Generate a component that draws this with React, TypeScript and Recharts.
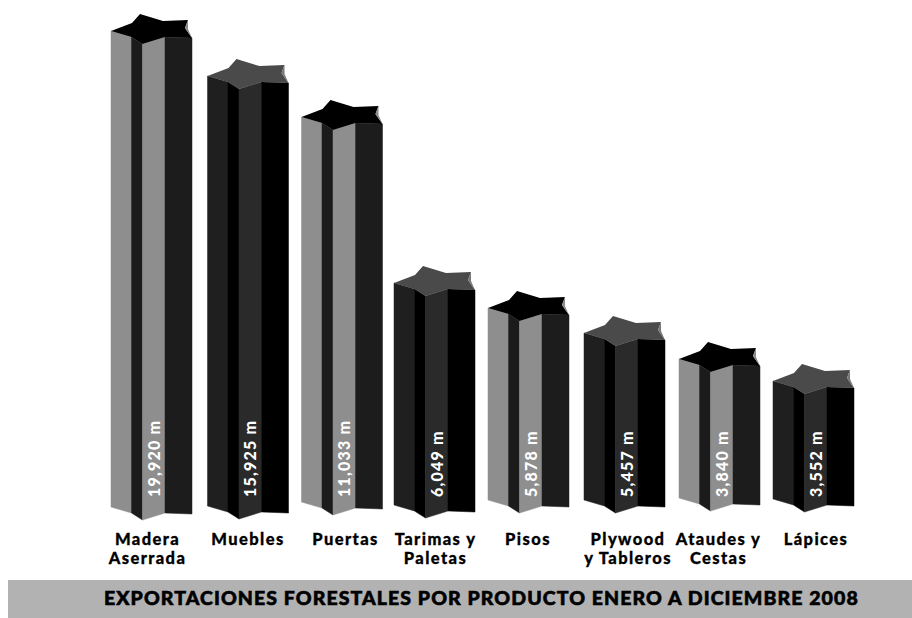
import { BarChart, Bar, XAxis, YAxis, LabelList } from 'recharts';

const categories = [
  'Madera\nAserrada',
  'Muebles',
  'Puertas',
  'Tarimas y\nPaletas',
  'Pisos',
  'Plywood\ny Tableros',
  'Ataudes y\nCestas',
  'Lápices',
];
const exportValues = [19920, 15925, 11033, 6049, 5878, 5457, 3840, 3552];
const chartTitle = 'EXPORTACIONES FORESTALES POR PRODUCTO ENERO A DICIEMBRE 2008';

// The column axis is hand-compressed rather than linear: each stop pairs an
// export value with its share of the axis length.
const axisStopValues = [0, 3552, 3840, 5457, 5878, 6049, 11033, 15925, 19920, 21000];
const axisStopShares = [0, 0.2485, 0.292, 0.343, 0.3925, 0.4418, 0.769, 0.85, 0.939, 1];

function makeStopScale(domain = [0, 1], range = [0, 1]) {
  const scale: any = (v: number) => {
    let i = 1;
    while (i < axisStopValues.length - 1 && v > axisStopValues[i]) i++;
    const t = (v - axisStopValues[i - 1]) / (axisStopValues[i] - axisStopValues[i - 1]);
    const share = axisStopShares[i - 1] + t * (axisStopShares[i] - axisStopShares[i - 1]);
    return range[0] + share * (range[1] - range[0]);
  };
  scale.domain = (d?: number[]) => (d ? makeStopScale(d, range) : domain);
  scale.range = (r?: number[]) => (r ? makeStopScale(domain, r) : range);
  scale.copy = () => makeStopScale(domain, range);
  scale.ticks = () => axisStopValues;
  return scale;
}

// Star column cross-section, measured from the left corner of the column
const topEdge = [[0, 0], [20.5, 6], [31.5, 13], [54, 6], [81, 7]];
const starOutline = [[0, 0], [21, -8], [29, -17], [52, -10], [77, -11], [74, -3], [81, 7], [54, 6], [31.5, 13], [20.5, 6]];
const notch = [[77, -11], [77, -2], [81, 7], [74, -3]];

const lightColumn = { faces: ['#8e8e8e', '#1b1b1b', '#8e8e8e', '#1c1c1c'], star: '#000000', notch: '#8a8a8a' };
const darkColumn = { faces: ['#1f1f1f', '#000000', '#2a2a2a', '#000000'], star: '#4a4a4a', notch: '#777777' };
const columnStyles = [lightColumn, darkColumn, lightColumn, darkColumn, lightColumn, darkColumn, lightColumn, darkColumn];

// small hand-drawn offsets of the columns from the regular band positions
const columnShiftX = [0, 2, 1.5, -0.5, -1, 0.5, 1, 0.5];
const columnFootLift = [0, 1, 5, 2, 7, 7, 9, 8];
const tickShiftX = [-4, 2, 5, 0.5, -1.5, 4, 0, 3];

const pts = (list: number[][]) => list.map((p) => p.join(',')).join(' ');

function StarColumn(props: any) {
  const { x, y, height, index } = props;
  const style = columnStyles[index];
  const left = x + columnShiftX[index];
  const foot = y + height - columnFootLift[index];
  return (
    <g>
      {style.faces.map((fill, i) => {
        const [ax, ay] = topEdge[i];
        const [bx, by] = topEdge[i + 1];
        const face = [
          [left + ax, y + ay],
          [left + bx, y + by],
          [left + bx, foot + by],
          [left + ax, foot + ay],
        ];
        return <polygon key={i} points={pts(face)} fill={fill} stroke={fill} strokeWidth={0.5} />;
      })}
      <polygon points={pts(starOutline.map(([a, b]) => [left + a, y + b]))} fill={style.star} />
      <polygon points={pts(notch.map(([a, b]) => [left + a, y + b]))} fill={style.notch} />
    </g>
  );
}

function ValueLabel(props: any) {
  const { x, index, value } = props;
  const cx = x + columnShiftX[index] + 43;
  return (
    <text
      transform={`translate(${cx + 5.5},497) rotate(-90)`}
      fill="#ffffff"
      fontFamily="Lato, sans-serif"
      fontWeight={900}
      fontSize={16}
      letterSpacing={1.2}
    >
      {`${value.toLocaleString('en-US')} m`}
    </text>
  );
}

function CategoryTick(props: any) {
  const { x, payload, index } = props;
  const lines = String(payload.value).split('\n');
  return (
    <text
      textAnchor="middle"
      fill="#000000"
      stroke="#000000"
      strokeWidth={0.3}
      fontFamily="Lato, sans-serif"
      fontWeight={900}
      fontSize={16.5}
      letterSpacing={1.4}
    >
      {lines.map((line, i) => (
        <tspan key={i} x={x + tickShiftX[index]} y={544.5 + i * 19}>
          {line}
        </tspan>
      ))}
    </text>
  );
}

const rows = categories.map((name, i) => ({ name, value: exportValues[i] }));
const stopScale = makeStopScale();

export default function App() {
  return (
    <div style={{ position: 'absolute', left: 0, top: 0, width: 912, height: 618, background: '#ffffff', overflow: 'hidden' }}>
      <div
        style={{
          position: 'absolute',
          left: 8,
          top: 580,
          width: 904,
          height: 38,
          background: '#b2b2b2',
          color: '#000000',
          fontFamily: 'Lato, sans-serif',
          fontWeight: 900,
          fontSize: 19.5,
          lineHeight: '36px',
          letterSpacing: 1.08,
          WebkitTextStroke: '0.6px #000000',
          whiteSpace: 'nowrap',
          paddingLeft: 96,
          boxSizing: 'border-box',
        }}
      >
        {chartTitle}
      </div>
      <BarChart
        width={912}
        height={618}
        data={rows}
        barCategoryGap={6.75}
        margin={{ top: 0, right: 51.75, bottom: 0, left: 104.25 }}
        style={{ position: 'absolute', left: 0, top: 0 }}
      >
        <XAxis
          dataKey="name"
          height={111}
          interval={0}
          axisLine={false}
          tickLine={false}
          tick={<CategoryTick />}
        />
        <YAxis hide scale={stopScale} domain={[0, 21000]} />
        <Bar dataKey="value" shape={<StarColumn />} isAnimationActive={false}>
          <LabelList dataKey="value" content={<ValueLabel />} />
        </Bar>
      </BarChart>
    </div>
  );
}
